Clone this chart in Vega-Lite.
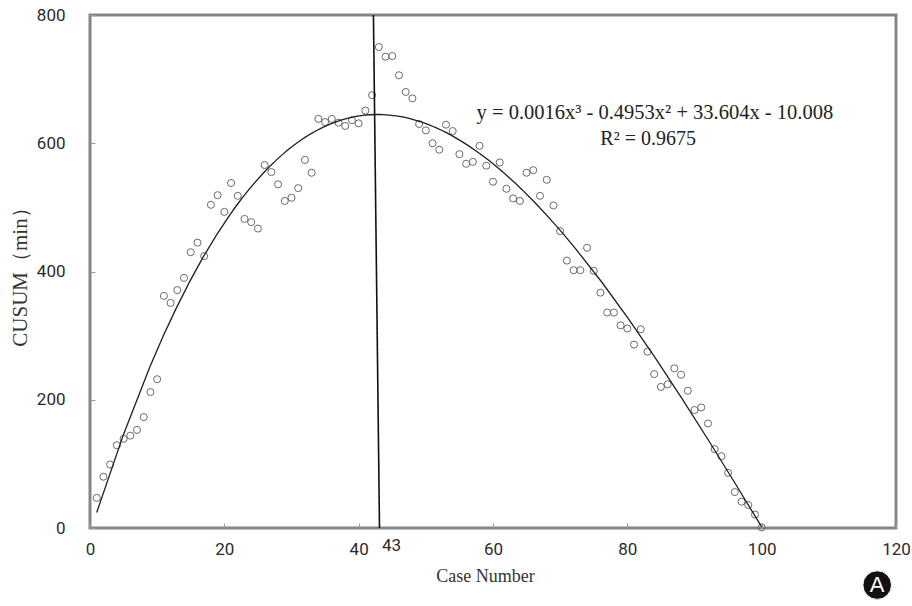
{
  "$schema": "https://vega.github.io/schema/vega-lite/v6.json",
  "width": 806,
  "height": 513,
  "autosize": {"type": "none"},
  "padding": {"left": 90, "top": 15, "right": 16, "bottom": 78},
  "background": "white",
  "config": {
    "view": {"stroke": "#858585", "strokeWidth": 3},
    "axis": {
      "grid": false,
      "domain": false,
      "tickColor": "#9a9a9a",
      "tickSize": -5,
      "labelFont": "Roboto, sans-serif",
      "labelFontSize": 17,
      "labelColor": "#2b2b2b",
      "titleFont": "Liberation Serif, serif",
      "titleFontWeight": "normal",
      "titleColor": "#333333"
    }
  },
  "data": {
    "values": [
      {"case": 1, "cusum": 47}, {"case": 2, "cusum": 80}, {"case": 3, "cusum": 99}, {"case": 4, "cusum": 129}, {"case": 5, "cusum": 139},
      {"case": 6, "cusum": 144}, {"case": 7, "cusum": 153}, {"case": 8, "cusum": 173}, {"case": 9, "cusum": 212}, {"case": 10, "cusum": 232},
      {"case": 11, "cusum": 362}, {"case": 12, "cusum": 351}, {"case": 13, "cusum": 371}, {"case": 14, "cusum": 390}, {"case": 15, "cusum": 430},
      {"case": 16, "cusum": 445}, {"case": 17, "cusum": 424}, {"case": 18, "cusum": 504}, {"case": 19, "cusum": 519}, {"case": 20, "cusum": 493},
      {"case": 21, "cusum": 538}, {"case": 22, "cusum": 518}, {"case": 23, "cusum": 482}, {"case": 24, "cusum": 477}, {"case": 25, "cusum": 467},
      {"case": 26, "cusum": 566}, {"case": 27, "cusum": 555}, {"case": 28, "cusum": 536}, {"case": 29, "cusum": 510}, {"case": 30, "cusum": 515},
      {"case": 31, "cusum": 530}, {"case": 32, "cusum": 574}, {"case": 33, "cusum": 554}, {"case": 34, "cusum": 638}, {"case": 35, "cusum": 633},
      {"case": 36, "cusum": 638}, {"case": 37, "cusum": 632}, {"case": 38, "cusum": 627}, {"case": 39, "cusum": 636}, {"case": 40, "cusum": 631},
      {"case": 41, "cusum": 651}, {"case": 42, "cusum": 675}, {"case": 43, "cusum": 750}, {"case": 44, "cusum": 735}, {"case": 45, "cusum": 736},
      {"case": 46, "cusum": 706}, {"case": 47, "cusum": 680}, {"case": 48, "cusum": 670}, {"case": 49, "cusum": 630}, {"case": 50, "cusum": 620},
      {"case": 51, "cusum": 600}, {"case": 52, "cusum": 590}, {"case": 53, "cusum": 629}, {"case": 54, "cusum": 619}, {"case": 55, "cusum": 583},
      {"case": 56, "cusum": 568}, {"case": 57, "cusum": 571}, {"case": 58, "cusum": 596}, {"case": 59, "cusum": 565}, {"case": 60, "cusum": 540},
      {"case": 61, "cusum": 570}, {"case": 62, "cusum": 529}, {"case": 63, "cusum": 514}, {"case": 64, "cusum": 510}, {"case": 65, "cusum": 554},
      {"case": 66, "cusum": 558}, {"case": 67, "cusum": 518}, {"case": 68, "cusum": 543}, {"case": 69, "cusum": 503}, {"case": 70, "cusum": 463},
      {"case": 71, "cusum": 417}, {"case": 72, "cusum": 402}, {"case": 73, "cusum": 402}, {"case": 74, "cusum": 437}, {"case": 75, "cusum": 401},
      {"case": 76, "cusum": 367}, {"case": 77, "cusum": 336}, {"case": 78, "cusum": 336}, {"case": 79, "cusum": 316}, {"case": 80, "cusum": 311},
      {"case": 81, "cusum": 286}, {"case": 82, "cusum": 310}, {"case": 83, "cusum": 275}, {"case": 84, "cusum": 240}, {"case": 85, "cusum": 220},
      {"case": 86, "cusum": 224}, {"case": 87, "cusum": 249}, {"case": 88, "cusum": 239}, {"case": 89, "cusum": 214}, {"case": 90, "cusum": 184},
      {"case": 91, "cusum": 188}, {"case": 92, "cusum": 163}, {"case": 93, "cusum": 123}, {"case": 94, "cusum": 112}, {"case": 95, "cusum": 86},
      {"case": 96, "cusum": 56}, {"case": 97, "cusum": 41}, {"case": 98, "cusum": 36}, {"case": 99, "cusum": 21}, {"case": 100, "cusum": 1}
    ]
  },
  "layer": [
    {
      "mark": {"type": "point", "shape": "circle", "filled": false, "stroke": "#6a6a6a", "strokeWidth": 1, "size": 50, "opacity": 1},
      "encoding": {
        "x": {
          "field": "case", "type": "quantitative",
          "scale": {"domain": [0, 120], "nice": false, "zero": false},
          "axis": {"values": [0, 20, 40, 60, 80, 100, 120], "title": "Case Number", "titleFontSize": 18, "labelPadding": 18, "titlePadding": 10, "titleX": 395, "labelFlush": false}
        },
        "y": {
          "field": "cusum", "type": "quantitative",
          "scale": {"domain": [0, 800], "nice": false},
          "axis": {"values": [0, 200, 400, 600, 800], "title": "CUSUM（min）", "titleFontSize": 21, "labelPadding": 30, "titlePadding": 6, "labelFlush": false}
        }
      }
    },
    {
      "transform": [{"regression": "cusum", "on": "case", "method": "poly", "order": 3, "extent": [1, 100]}],
      "mark": {"type": "line", "color": "#1e1e1e", "strokeWidth": 1.3},
      "encoding": {
        "x": {"field": "case", "type": "quantitative"},
        "y": {"field": "cusum", "type": "quantitative"}
      }
    },
    {
      "data": {"values": [{"label": "cut"}]},
      "mark": {"type": "rule", "color": "#111111", "strokeWidth": 1.6},
      "encoding": {
        "x": {"datum": 42.2}, "y": {"datum": 800},
        "x2": {"datum": 43.1}, "y2": {"datum": 0}
      }
    },
    {
      "data": {"values": [{"label": "43"}]},
      "mark": {"type": "text", "font": "Roboto, sans-serif", "fontSize": 17, "color": "#2b2b2b", "align": "center", "baseline": "middle", "clip": false},
      "encoding": {
        "x": {"datum": 44.9}, "y": {"datum": -28},
        "text": {"field": "label"}
      }
    },
    {
      "data": {"values": [{"label": "y = 0.0016x³ - 0.4953x² + 33.604x - 10.008"}]},
      "mark": {"type": "text", "font": "Liberation Serif, serif", "fontSize": 20.5, "color": "#222222", "align": "center", "baseline": "middle"},
      "encoding": {
        "x": {"datum": 84.1}, "y": {"datum": 647},
        "text": {"field": "label"}
      }
    },
    {
      "data": {"values": [{"label": "R² = 0.9675"}]},
      "mark": {"type": "text", "font": "Liberation Serif, serif", "fontSize": 20, "color": "#222222", "align": "center", "baseline": "middle"},
      "encoding": {
        "x": {"datum": 83.1}, "y": {"datum": 607},
        "text": {"field": "label"}
      }
    },
    {
      "data": {"values": [{"label": "A"}]},
      "mark": {"type": "point", "shape": "circle", "filled": true, "color": "#111111", "stroke": "#ffffff", "strokeWidth": 1, "size": 820, "opacity": 1, "clip": false},
      "encoding": {
        "x": {"datum": 117.2}, "y": {"datum": -89}
      }
    },
    {
      "data": {"values": [{"label": "A"}]},
      "mark": {"type": "text", "font": "Liberation Sans, sans-serif", "fontSize": 22, "color": "#ffffff", "align": "center", "baseline": "middle", "clip": false},
      "encoding": {
        "x": {"datum": 117.2}, "y": {"datum": -88.5},
        "text": {"field": "label"}
      }
    }
  ]
}
